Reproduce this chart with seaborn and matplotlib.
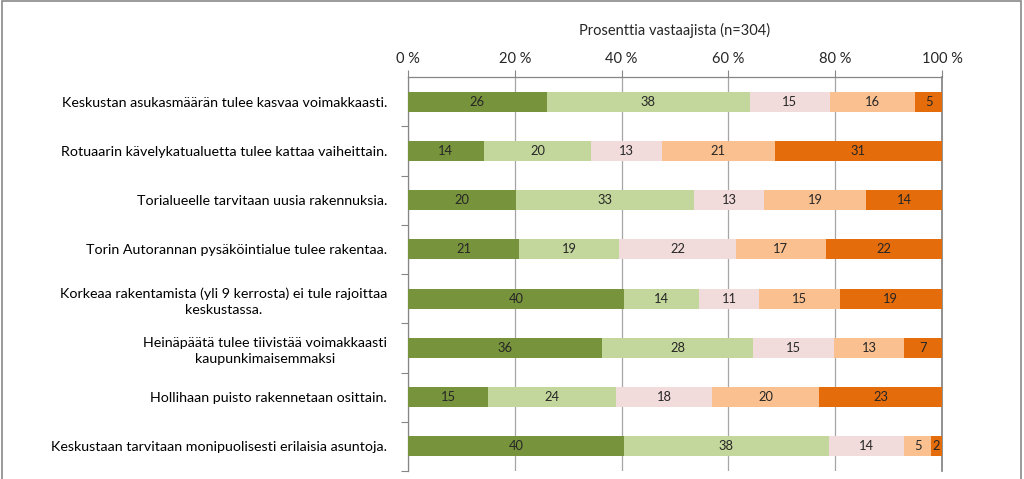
import matplotlib
matplotlib.use("Agg")
import matplotlib.pyplot as plt
from matplotlib.patches import Rectangle
import numpy as np
import pandas as pd
import seaborn as sns

categories = [
    "Keskustan asukasmäärän tulee kasvaa voimakkaasti.",
    "Rotuaarin kävelykatualuetta tulee kattaa vaiheittain.",
    "Torialueelle tarvitaan uusia rakennuksia.",
    "Torin Autorannan pysäköintialue tulee rakentaa.",
    "Korkeaa rakentamista (yli 9 kerrosta) ei tule rajoittaa\nkeskustassa.",
    "Heinäpäätä tulee tiivistää voimakkaasti\nkaupunkimaisemmaksi",
    "Hollihaan puisto rakennetaan osittain.",
    "Keskustaan tarvitaan monipuolisesti erilaisia asuntoja.",
]
s1 = [26, 14, 20, 21, 40, 36, 15, 40]
s2 = [38, 20, 33, 19, 14, 28, 24, 38]
s3 = [15, 13, 13, 22, 11, 15, 18, 14]
s4 = [16, 21, 19, 17, 15, 13, 20, 5]
s5 = [5, 31, 14, 22, 19, 7, 23, 2]
series = [s1, s2, s3, s4, s5]
colors = ["#77933C", "#C3D69B", "#F2DCDB", "#FAC090", "#E46C0A"]
xticks = [0, 20, 40, 60, 80, 100]
xlabel = "Prosenttia vastaajista (n=304)"

sns.set_theme(style="white")
plt.rcParams['font.family'] = ['Lato', 'DejaVu Sans']

vals = np.array(series, dtype=float)  # 5 x 8
totals = vals.sum(axis=0)
pct = vals / totals * 100
cum = np.cumsum(pct, axis=0)

fig = plt.figure(figsize=(10.24, 4.79), dpi=100)
ax = fig.add_axes([408/1024, 1 - 471/479, (942-408)/1024, (471-77)/479])

for i in range(4, -1, -1):
    df = pd.DataFrame({"cat": categories, "val": cum[i]})
    sns.barplot(data=df, x="val", y="cat", orient="h", color=colors[i],
                saturation=1, width=0.41, ax=ax, linewidth=0, zorder=3)

for i in range(5):
    for j in range(len(categories)):
        start = cum[i][j] - pct[i][j]
        ax.text(start + pct[i][j]/2, j, f"{int(vals[i][j])}", ha="center", va="center",
                fontsize=9.3, color="#262626", zorder=4)

ax.set_xlim(0, 100)
ax.set_ylim(len(categories) - 0.5, -0.5)
ax.xaxis.tick_top()
ax.xaxis.set_label_position("top")
ax.set_xticks(xticks)
ax.set_xticklabels([f"{t} %" for t in xticks], fontsize=10.5, color="#262626")
ax.set_xlabel(xlabel, fontsize=10.5, color="#262626", labelpad=12)
ax.set_ylabel("")
ax.tick_params(axis="x", which="both", top=True, bottom=False, length=5, width=0.8,
               color="#868686", pad=3)
ax.set_yticks(np.arange(len(categories)))
ax.set_yticklabels(categories, fontsize=10.3, color="#000000", ha="right",
                   multialignment="center", linespacing=1.45)
ax.set_yticks(np.arange(len(categories)) + 0.5, minor=True)
ax.tick_params(axis="y", which="major", left=False, length=0, pad=15)
ax.tick_params(axis="y", which="minor", left=True, length=5, width=0.8, color="#868686")
ax.grid(axis="x", color="#A6A6A6", linewidth=0.9, zorder=0)
ax.set_axisbelow(True)
for side in ["top", "left"]:
    ax.spines[side].set_visible(True)
    ax.spines[side].set_color("#868686")
    ax.spines[side].set_linewidth(0.9)
ax.spines["right"].set_visible(True)
ax.spines["right"].set_color("#7F7F7F")
ax.spines["right"].set_linewidth(1.2)
ax.spines["bottom"].set_visible(False)

fig.add_artist(Rectangle((2/1024, -0.1), 1019/1024, 1.1 - 1.5/479, transform=fig.transFigure,
                         fill=False, edgecolor="#898989", linewidth=1.2))

fig.savefig("out.png", dpi=100)
